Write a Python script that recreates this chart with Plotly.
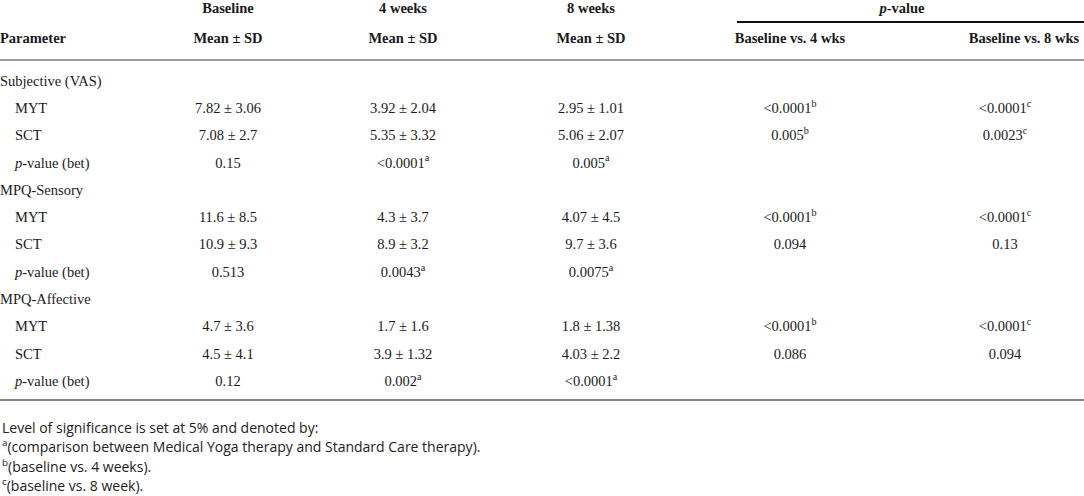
import plotly.graph_objects as go

# Tabela: wyniki bólu (VAS, MPQ) - baseline, 4 i 8 tygodni
row_labels = ["Subjective (VAS)", "MYT", "SCT", "<i>p</i>-value (bet)",
              "MPQ-Sensory", "MYT", "SCT", "<i>p</i>-value (bet)",
              "MPQ-Affective", "MYT", "SCT", "<i>p</i>-value (bet)"]
is_group = [True, False, False, False, True, False, False, False, True, False, False, False]

baseline = ["", "7.82 ± 3.06", "7.08 ± 2.7", "0.15",
            "", "11.6 ± 8.5", "10.9 ± 9.3", "0.513",
            "", "4.7 ± 3.6", "4.5 ± 4.1", "0.12"]
wk4 = ["", "3.92 ± 2.04", "5.35 ± 3.32", "&lt;0.0001<sup>a</sup>",
       "", "4.3 ± 3.7", "8.9 ± 3.2", "0.0043<sup>a</sup>",
       "", "1.7 ± 1.6", "3.9 ± 1.32", "0.002<sup>a</sup>"]
wk8 = ["", "2.95 ± 1.01", "5.06 ± 2.07", "0.005<sup>a</sup>",
       "", "4.07 ± 4.5", "9.7 ± 3.6", "0.0075<sup>a</sup>",
       "", "1.8 ± 1.38", "4.03 ± 2.2", "&lt;0.0001<sup>a</sup>"]
p_bl4 = ["", "&lt;0.0001<sup>b</sup>", "0.005<sup>b</sup>", "",
         "", "&lt;0.0001<sup>b</sup>", "0.094", "",
         "", "&lt;0.0001<sup>b</sup>", "0.086", ""]
p_bl8 = ["", "&lt;0.0001<sup>c</sup>", "0.0023<sup>c</sup>", "",
         "", "&lt;0.0001<sup>c</sup>", "0.13", "",
         "", "&lt;0.0001<sup>c</sup>", "0.094", ""]

header_top = ["Baseline", "4 weeks", "8 weeks"]
header_sub = ["Mean ± SD", "Mean ± SD", "Mean ± SD", "Baseline vs. 4 wks", "Baseline vs. 8 wks"]

footnotes = ["Level of significance is set at 5% and denoted by:",
             "<sup>a</sup>(comparison between Medical Yoga therapy and Standard Care therapy).",
             "<sup>b</sup>(baseline vs. 4 weeks).",
             "<sup>c</sup>(baseline vs. 8 week)."]

W, H = 1084, 496
col_x = [228, 403, 591, 790, 1005]
head_x = [228, 403, 591, 790, 1024]
row_y0, row_dy = 82, 27.3
rows_y = [row_y0 + i * row_dy for i in range(len(row_labels))]

serif = "Liberation Serif"
txt_color = "#1a1a1a"
fs = 14.5

fig = go.Figure()

# kolumna z parametrami
fig.add_trace(go.Scatter(
    x=[0 if g else 15 for g in is_group], y=rows_y,
    text=row_labels, mode="text", textposition="middle right",
    textfont=dict(family=serif, size=fs, color=txt_color),
    cliponaxis=False, hoverinfo="skip"))

for cx, col in zip(col_x, [baseline, wk4, wk8, p_bl4, p_bl8]):
    fig.add_trace(go.Scatter(
        x=[cx] * len(col), y=rows_y, text=col, mode="text",
        textposition="middle center",
        textfont=dict(family=serif, size=fs, color=txt_color),
        cliponaxis=False, hoverinfo="skip"))

# naglowki
fig.add_trace(go.Scatter(
    x=head_x[:3] + [902], y=[9] * 4,
    text=["<b>%s</b>" % t for t in header_top] + ["<b><i>p</i>-value</b>"],
    mode="text", textposition="middle center",
    textfont=dict(family=serif, size=fs, color=txt_color),
    cliponaxis=False, hoverinfo="skip"))
fig.add_trace(go.Scatter(
    x=[0] + head_x, y=[39] * 6,
    text=["<b>Parameter</b>"] + ["<b>%s</b>" % t for t in header_sub],
    mode="text", textposition=["middle right"] + ["middle center"] * 5,
    textfont=dict(family=serif, size=fs, color=txt_color),
    cliponaxis=False, hoverinfo="skip"))

# przypisy
for i, note in enumerate(footnotes):
    fig.add_annotation(x=0, y=427 + i * 19.3, text=note, showarrow=False,
                       xanchor="left", yanchor="middle",
                       font=dict(family="Open Sans", size=14, color="#222"))

fig.add_shape(type="line", x0=737, x1=W, y0=22, y1=22, line=dict(color="#111", width=1.8))
fig.add_shape(type="line", x0=0, x1=W, y0=60, y1=60, line=dict(color="#9a9a9a", width=2))
fig.add_shape(type="line", x0=0, x1=W, y0=400, y1=400, line=dict(color="#888", width=2))

fig.update_layout(
    width=W, height=H,
    margin=dict(l=0, r=0, t=0, b=0),
    showlegend=False,
    plot_bgcolor="white", paper_bgcolor="white",
    xaxis=dict(range=[0, W], visible=False, fixedrange=True),
    yaxis=dict(range=[H, 0], visible=False, fixedrange=True),
)

fig.write_html("out.html", config={"displayModeBar": False},
               post_script="document.body.style.margin='0';")
